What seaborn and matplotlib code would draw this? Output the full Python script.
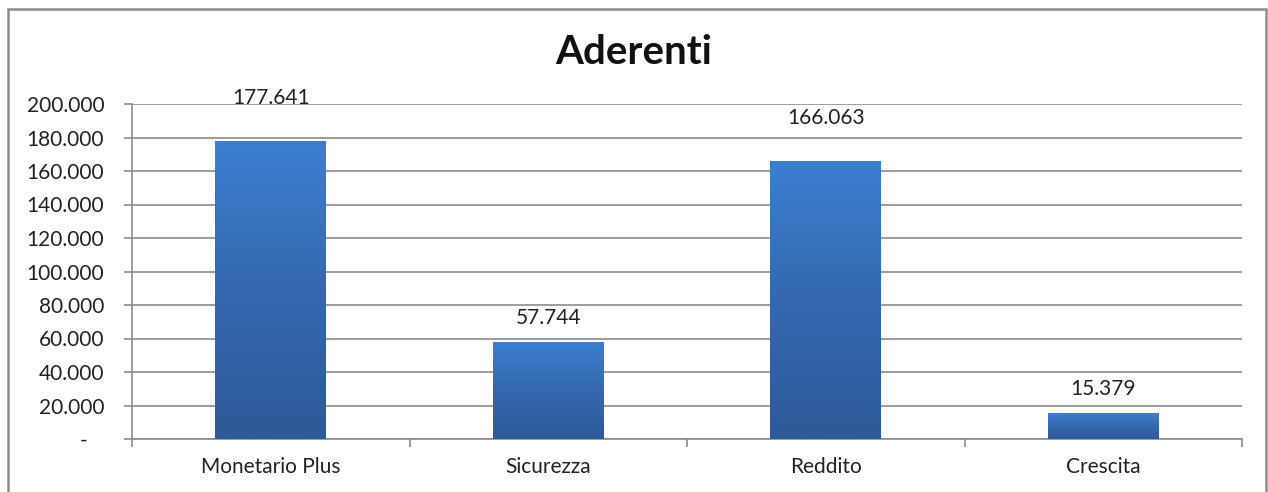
import numpy as np
import pandas as pd
import matplotlib
matplotlib.use("Agg")
import matplotlib.pyplot as plt
from matplotlib.patches import Rectangle
from matplotlib.colors import LinearSegmentedColormap
from matplotlib.ticker import FuncFormatter, FixedLocator
import seaborn as sns

categories = ["Monetario Plus", "Sicurezza", "Reddito", "Crescita"]
aderenti = [177641, 57744, 166063, 15379]
y_ticks = [0, 20000, 40000, 60000, 80000, 100000, 120000, 140000, 160000, 180000, 200000]

df = pd.DataFrame({"Comparto": categories, "Aderenti": aderenti})

sns.set_style("white")
plt.rcParams["font.family"] = ["Lato", "DejaVu Sans"]

grid_col = "#8c8c8c"
fs = 15

fig = plt.figure(figsize=(12.68, 4.92), dpi=100)
ax = fig.add_axes([132 / 1268, 53 / 492, 1110 / 1268, 335 / 492])

sns.barplot(data=df, x="Comparto", y="Aderenti", width=0.4, color="#3a78c6", ax=ax)

ax.set_ylim(0, 200000)
ax.set_xlim(-0.5, len(categories) - 0.5)

# gradient fill clipped to each bar
cmap = LinearSegmentedColormap.from_list("bar", ["#2d5a98", "#3468b0", "#3c7fd0"])
grad = np.linspace(0, 1, 256).reshape(-1, 1)
for p in ax.patches:
    x0, y0 = p.get_x(), p.get_y()
    w, h = p.get_width(), p.get_height()
    im = ax.imshow(grad, cmap=cmap, origin="lower", aspect="auto",
                   extent=[x0, x0 + w, y0, y0 + h], zorder=3)
    im.set_clip_path(p)
    p.set_facecolor("none")
    p.set_edgecolor("none")
ax.set_xlim(-0.5, len(categories) - 0.5)
ax.set_ylim(0, 200000)

# value labels (Excel places them a bit higher on the tall bars)
pads = [24, 10, 24, 10]
for p, v, pad in zip(ax.patches, aderenti, pads):
    ax.annotate(f"{v:,}".replace(",", "."),
                (p.get_x() + p.get_width() / 2, p.get_height()),
                xytext=(0, pad), textcoords="offset points",
                ha="center", va="bottom", fontsize=fs, color="#222222", zorder=5)

ax.yaxis.set_major_locator(FixedLocator(y_ticks))
ax.yaxis.set_major_formatter(FuncFormatter(
    lambda v, pos: "-   " if v == 0 else f"{int(v):,}".replace(",", ".")))
ax.grid(axis="y", color=grid_col, linewidth=1.2)
ax.set_axisbelow(True)

ax.xaxis.set_minor_locator(FixedLocator(np.arange(-0.5, len(categories), 1.0)))
ax.tick_params(axis="x", which="major", length=0, pad=13, labelsize=fs, labelcolor="#222222")
ax.tick_params(axis="x", which="minor", length=6, width=1.2, color=grid_col, direction="out")
ax.tick_params(axis="y", which="major", length=6, width=1.2, color=grid_col, direction="out",
               pad=14, labelsize=fs, labelcolor="#222222")
ax.tick_params(left=True, bottom=True, which="both")

ax.set_xlabel("")
ax.set_ylabel("")
for s in ["top", "right"]:
    ax.spines[s].set_visible(False)
for s in ["left", "bottom"]:
    ax.spines[s].set_color(grid_col)
    ax.spines[s].set_linewidth(1.2)

fig.text(634 / 1268, 1 - 52 / 492, "Aderenti", ha="center", va="center",
         fontsize=29, fontweight="bold", color="#111111")

fig.patches.append(Rectangle((8 / 1268, -0.05), 1258 / 1268, 1.05 - 9 / 492,
                             transform=fig.transFigure, fill=False,
                             edgecolor="#8c8c8c", linewidth=1.8))

fig.savefig("out.png", dpi=100)
